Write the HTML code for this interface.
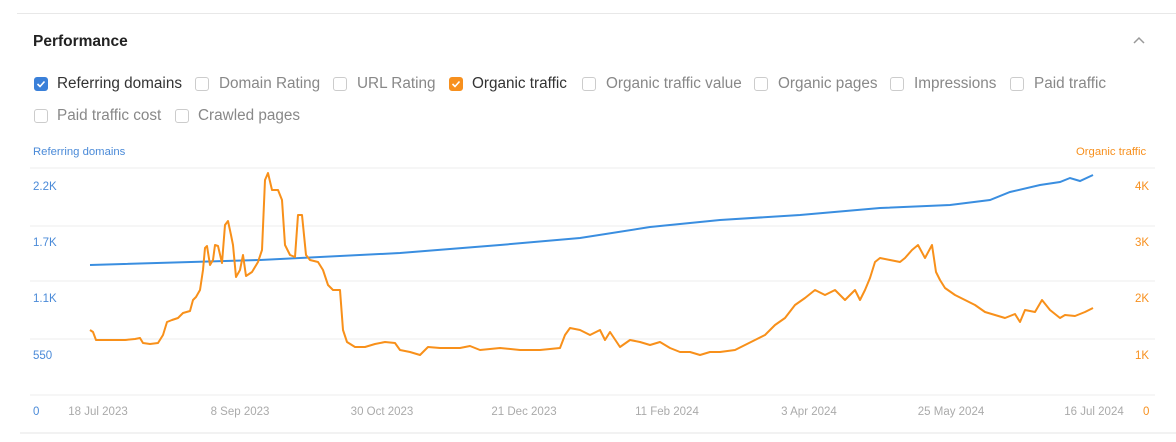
<!DOCTYPE html><html><head><style>
body{margin:0;width:1176px;height:442px;background:#fff;font-family:"Liberation Sans",sans-serif;position:relative;overflow:hidden}
.t{position:absolute;white-space:nowrap}
.cb{position:absolute;width:14px;height:14px;border:1px solid #ccc;border-radius:3px;box-sizing:border-box}
.lb{position:absolute;font-size:15.3px;color:#888}
</style></head><body>
<div style="position:absolute;left:17px;top:13px;width:1159px;height:1px;background:#e8e8e8"></div>
<div class="t" style="left:33px;top:33px;font-size:15.5px;font-weight:bold;color:#222">Performance</div>
<svg style="position:absolute;left:1132px;top:36px" width="14" height="10"><path d="M2 7 L7 2 L12 7" fill="none" stroke="#999" stroke-width="1.5"/></svg>
<div class="cb" style="left:34px;top:77px;background:#3a80d9;border-color:#3a80d9"></div>
<svg style="position:absolute;left:34px;top:77px" width="14" height="14"><path d="M3.5 7 L6 9.5 L10.5 4.5" fill="none" stroke="#fff" stroke-width="1.6"/></svg>
<div class="lb" style="left:57px;top:75px;color:#333">Referring domains</div>
<div class="cb" style="left:195px;top:77px"></div><div class="lb" style="left:219px;top:75px">Domain Rating</div>
<div class="cb" style="left:333px;top:77px"></div><div class="lb" style="left:357px;top:75px">URL Rating</div>
<div class="cb" style="left:449px;top:77px;background:#f7901e;border-color:#f7901e"></div>
<svg style="position:absolute;left:449px;top:77px" width="14" height="14"><path d="M3.5 7 L6 9.5 L10.5 4.5" fill="none" stroke="#fff" stroke-width="1.6"/></svg>
<div class="lb" style="left:472px;top:75px;color:#333">Organic traffic</div>
<div class="cb" style="left:582px;top:77px"></div><div class="lb" style="left:606px;top:75px">Organic traffic value</div>
<div class="cb" style="left:754px;top:77px"></div><div class="lb" style="left:778px;top:75px">Organic pages</div>
<div class="cb" style="left:890px;top:77px"></div><div class="lb" style="left:914px;top:75px">Impressions</div>
<div class="cb" style="left:1010px;top:77px"></div><div class="lb" style="left:1034px;top:75px">Paid traffic</div>
<div class="cb" style="left:34px;top:109px"></div><div class="lb" style="left:57px;top:107px">Paid traffic cost</div>
<div class="cb" style="left:175px;top:109px"></div><div class="lb" style="left:198px;top:107px">Crawled pages</div>
<div class="t" style="left:33px;top:146px;font-size:11.3px;color:#4a8ad8">Referring domains</div>
<div class="t" style="left:1076px;top:146px;font-size:11.3px;color:#f7901e">Organic traffic</div>
<svg style="position:absolute;left:0;top:0" width="1176" height="442">
<g stroke="#eee" stroke-width="1"><line x1="30" x2="1155" y1="168" y2="168"/><line x1="30" x2="1155" y1="226" y2="226"/><line x1="30" x2="1155" y1="281" y2="281"/><line x1="30" x2="1155" y1="339" y2="339"/><line x1="30" x2="1155" y1="395" y2="395"/></g>
<line x1="20" x2="1176" y1="433" y2="433" stroke="#e5e5e5"/>
<g font-size="11.5" fill="#4a8ad8"><text x="33" y="190">2.2K</text><text x="33" y="246">1.7K</text><text x="33" y="302">1.1K</text><text x="33" y="359">550</text><text x="33" y="415">0</text></g>
<g font-size="11.5" fill="#f7901e"><text x="1135" y="190">4K</text><text x="1135" y="246">3K</text><text x="1135" y="302">2K</text><text x="1135" y="359">1K</text><text x="1143" y="415">0</text></g>
<g font-size="11.5" fill="#aaa" text-anchor="middle"><text x="98" y="415">18 Jul 2023</text><text x="240" y="415">8 Sep 2023</text><text x="382" y="415">30 Oct 2023</text><text x="524" y="415">21 Dec 2023</text><text x="667" y="415">11 Feb 2024</text><text x="809" y="415">3 Apr 2024</text><text x="951" y="415">25 May 2024</text><text x="1094" y="415">16 Jul 2024</text></g>
<polyline fill="none" stroke="#3a8ee0" stroke-width="2" points="90,265 260,260 400,253 500,245 580,238 650,227 720,220 800,215 880,208 950,205 990,200 1010,192 1040,185 1060,182 1070,178 1080,181 1093,175"/>
<polyline fill="none" stroke="#f8901a" stroke-width="2" stroke-linejoin="round" points="90,330 93,332 96,340 110,340 125,340 135,339 140,338 143,343 150,344 158,343 163,335 167,322 172,320 178,318 183,313 190,311 193,300 196,297 200,290 203,270 205,248 207,246 210,265 213,260 215,245 218,246 222,263 225,225 228,221 231,235 233,245 236,277 240,270 243,255 246,276 252,272 258,262 262,250 265,180 268,173 272,190 278,190 282,200 285,245 290,255 295,257 298,215 302,215 306,255 310,260 318,262 323,270 328,285 333,290 340,290 343,330 347,342 355,347 365,347 375,344 385,342 395,343 400,350 410,352 420,355 428,347 440,348 460,348 470,346 480,350 500,348 520,350 540,350 560,348 565,335 570,328 580,330 590,335 600,330 605,340 610,332 620,347 630,340 640,342 650,345 660,342 670,348 680,352 690,352 700,355 710,352 720,352 735,350 745,345 755,340 765,335 775,325 785,318 795,305 805,298 815,290 825,295 835,290 845,300 855,290 860,300 865,290 870,278 875,262 880,258 890,260 900,262 905,258 912,250 918,245 925,258 932,245 936,272 940,280 945,288 955,295 965,300 975,305 985,312 995,315 1005,318 1015,314 1020,322 1025,310 1035,312 1042,300 1050,310 1060,318 1065,315 1075,316 1085,312 1093,308"/>
</svg>
</body></html>
